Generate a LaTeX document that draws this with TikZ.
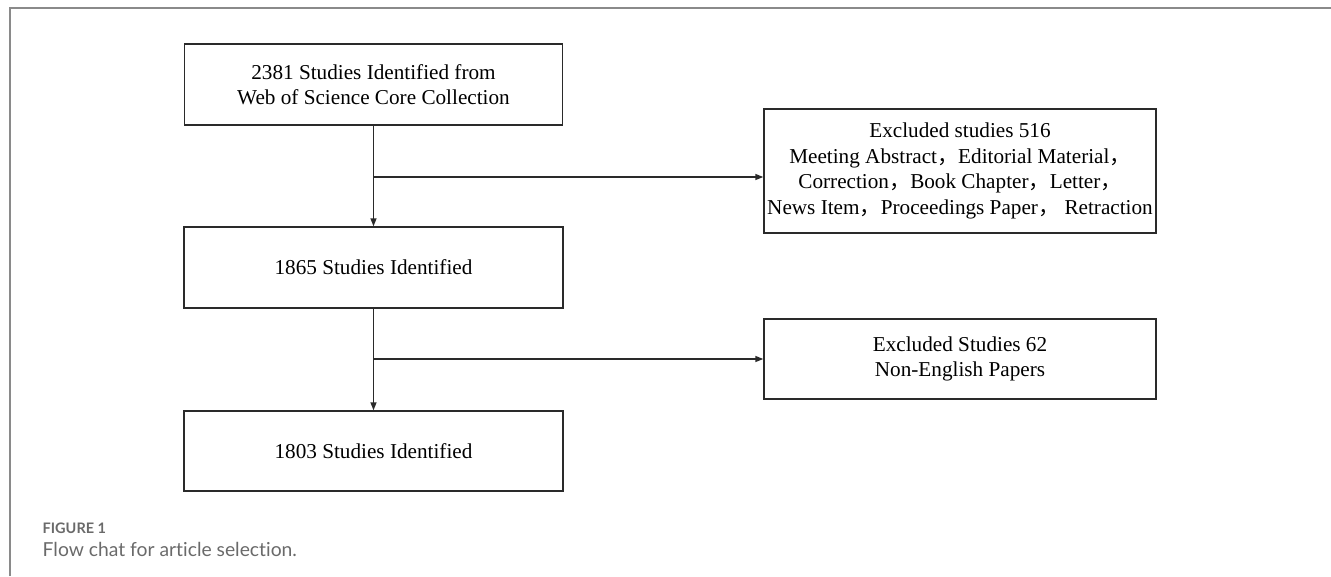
\documentclass[tikz,border=0pt]{standalone}
\usepackage{fontspec}
\setmainfont{Liberation Serif}
\newfontfamily\capfont[Ligatures=NoCommon]{Lato}
\newfontfamily\cjk{Noto Sans CJK SC}
\usetikzlibrary{arrows.meta}
\newcommand{\cm}{{\cjk ，}}
\definecolor{framegray}{HTML}{8A8A8A}
\definecolor{capgray}{HTML}{6A6A6A}
\definecolor{linecol}{HTML}{2A2A2A}
\begin{document}
\begin{tikzpicture}[x=1pt,y=-1pt,
  box/.style={draw=linecol,line width=1.4pt,rectangle,align=center,inner sep=0pt,
    font=\fontsize{21.2}{25.5}\selectfont},
  conn/.style={draw=linecol,line width=1.4pt},
  arr/.style={conn,-{Triangle[length=8pt,width=6pt]}}]
\useasboundingbox (0,0) rectangle (1331,576);
\draw[framegray,line width=2pt] (9.5,576) -- (9.5,7.5) -- (1331,7.5);
\node[box,minimum width=378pt,minimum height=81pt] (b1) at (373.5,84.5)
  {2381 Studies Identified from\\Web of Science Core Collection};
\node[box,minimum width=392pt,minimum height=124pt] (b2) at (960,171)
  {Excluded studies 516\\Meeting Abstract\cm Editorial Material\cm\\Correction\cm Book Chapter\cm Letter\cm\\News Item\cm Proceedings Paper\cm\ Retraction};
\node[box,minimum width=379pt,minimum height=81pt] (b3) at (373.5,267.5)
  {1865 Studies Identified};
\node[box,minimum width=392pt,minimum height=80pt] (b4) at (960,359)
  {Excluded Studies 62\\Non-English Papers};
\node[box,minimum width=379pt,minimum height=80pt] (b5) at (373.5,451)
  {1803 Studies Identified};
\coordinate (j1) at (b1.south |- 0,177);
\coordinate (j2) at (b3.south |- 0,359);
\draw[arr] (b1.south) -- (b3.north);
\draw[arr] (j1) -- (j1 -| b2.west);
\draw[arr] (b3.south) -- (b5.north);
\draw[arr] (j2) -- (b4.west);
\node[anchor=west,inner sep=0pt,text=capgray,font=\capfont\bfseries\fontsize{14.5}{16}\selectfont] (fig) at (42.5,528) {FIGURE 1};
\node[anchor=west,inner sep=0pt,text=capgray,font=\capfont\fontsize{19.3}{21}\selectfont] (cap) at (42.5,549) {Flow chat for article selection.};
\end{tikzpicture}
\end{document}
